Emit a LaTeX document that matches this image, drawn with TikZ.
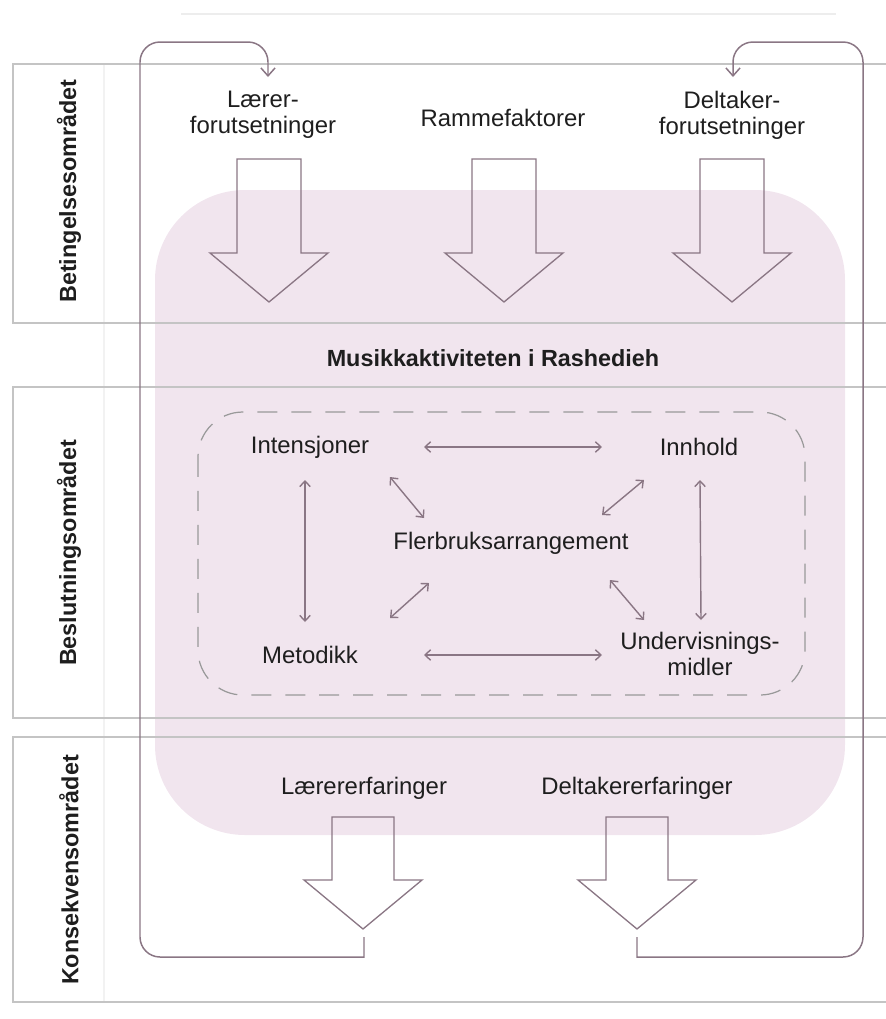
\documentclass[tikz,border=0pt]{standalone}
\usepackage{fontspec}
\setmainfont{Liberation Sans}
\usepackage{tikz}
\usetikzlibrary{arrows.meta, positioning, calc}
\definecolor{pinkbg}{RGB}{241,229,238}
\definecolor{mauve}{RGB}{138,118,132}
\definecolor{bandgray}{RGB}{196,196,196}
\definecolor{ink}{RGB}{30,30,30}
\tikzset{%
	lbl/.style={inner sep=2pt, text=ink, font=\fontsize{13.6}{14.7}\selectfont, align=center},
	title/.style={inner sep=2pt, text=ink, font=\fontsize{13.3}{14.7}\selectfont\bfseries},
	side/.style={title, rotate=90},
	band/.style={draw=bandgray, line width=0.8pt},
	blockarr/.style={draw=mauve, line width=0.75pt, line join=miter},
	loop/.style={draw=mauve, line width=0.85pt, -{Straight Barb[length=4.5pt,width=8pt]}},
	dbl/.style={draw=mauve, line width=0.8pt, {Straight Barb[length=3.2pt,width=6pt]}-{Straight Barb[length=3.2pt,width=6pt]}},
	dashbox/.style={draw=black!40, line width=0.7pt, dash pattern=on 0.4cm off 0.28cm, rounded corners=0.9cm}
}
% block arrow: centre x, top y, head y, tip y, half shaft, half head
\newcommand{\blockarrow}[6]{%
	\draw[blockarr] (#1-#5,#2) -- (#1+#5,#2) -- (#1+#5,#3) -- (#1+#6,#3) -- (#1,#4)
		-- (#1-#6,#3) -- (#1-#5,#3) -- cycle;}

\begin{document}
\begin{tikzpicture}[x=0.02cm, y=-0.02cm]
	\useasboundingbox (0,0) rectangle (886,1019);

	% background
	\fill[pinkbg, rounded corners=1.8cm] (155,190) rectangle (845,835);
	\draw[black!7, line width=0.6pt] (181,14) -- (836,14);
	\draw[black!5, line width=0.6pt] (104,64) -- (104,1002);

	% bands
	\draw[band] (886,64) -- (13,64) -- (13,323) -- (886,323);
	\draw[band] (886,387) -- (13,387) -- (13,718) -- (886,718);
	\draw[band] (886,737) -- (13,737) -- (13,1002) -- (886,1002);

	\node[side] (bet) at (69,191) {Betingelsesområdet};
	\node[side] (bes) at (69,553) {Beslutningsområdet};
	\node[side] (kon) at (69,870) {Konsekvensområdet};

	% conditions
	\node[lbl] (laerer) at (263,115) {Lærer-\\forutsetninger};
	\node[lbl] (ramme) at (503,118) {Rammefaktorer};
	\node[lbl] (deltaker) at (732,115) {Deltaker-\\forutsetninger};

	\blockarrow{269}{159}{253}{302}{32}{59}
	\blockarrow{504}{159}{253}{302}{32}{59}
	\blockarrow{732}{159}{253}{302}{32}{59}

	\node[title] (musikk) at (493,358) {Musikkaktiviteten i Rashedieh};

	% decisions
	\draw[dashbox] (198,412) rectangle (805,695);
	\node[lbl] (intens) at (310,447) {Intensjoner};
	\node[lbl] (innhold) at (699,447) {Innhold};
	\node[lbl] (flerbruk) at (511,543) {Flerbruksarrangement};
	\node[lbl] (metodikk) at (310,655) {Metodikk};
	\node[lbl] (underv) at (700,654) {Undervisnings-\\midler};

	\draw[dbl] ($(intens)+(114,0)$) -- ($(innhold)+(-97,0)$);
	\draw[dbl] ($(metodikk)+(114,0)$) -- ($(underv)+(-98,1)$);
	\draw[dbl] ($(intens)+(-5,33)$) -- ($(metodikk)+(-5,-33)$);
	\draw[dbl] ($(innhold)+(1,33)$) -- ($(underv)+(1,-34)$);
	\draw[dbl] ($(intens)+(80,30)$) -- ($(flerbruk)+(-87,-25)$);
	\draw[dbl] ($(innhold)+(-55,33)$) -- ($(flerbruk)+(91,-28)$);
	\draw[dbl] ($(metodikk)+(80,-37)$) -- ($(flerbruk)+(-82,40)$);
	\draw[dbl] ($(flerbruk)+(99,37)$) -- ($(underv)+(-56,-34)$);

	% consequences
	\node[lbl] (lexp) at (364,788) {Lærererfaringer};
	\node[lbl] (dexp) at (637,788) {Deltakererfaringer};

	\blockarrow{363}{817}{880}{929}{31}{59}
	\blockarrow{637}{817}{880}{929}{31}{59}

	% feedback loops
	\coordinate (lbot) at (364,937);
	\coordinate (dbot) at (637,937);
	\coordinate (ltop) at (268,77);
	\coordinate (dtop) at (733,77);
	\draw[loop] (lbot) -- ++(0,20) [rounded corners=0.4cm] -| (140,42) -| (ltop);
	\draw[loop] (dbot) -- ++(0,20) [rounded corners=0.4cm] -| (863,42) -| (dtop);
\end{tikzpicture}
\end{document}
